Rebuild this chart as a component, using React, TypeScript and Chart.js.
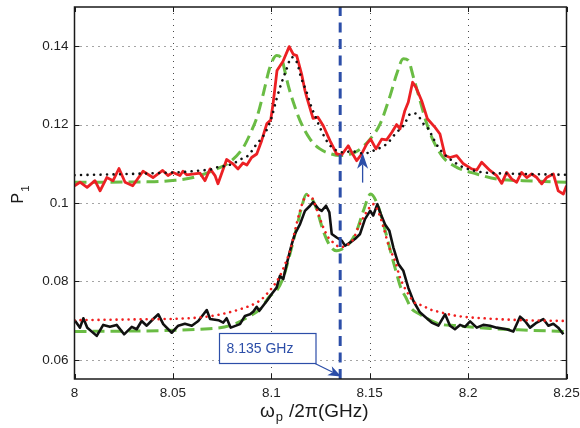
import React, { useEffect, useRef } from "react";
import { Chart, registerables } from "chart.js";

Chart.register(...registerables);

// ---- axes ----
const xTickValues = [8, 8.05, 8.1, 8.15, 8.2, 8.25];
const xTickLabels = ["8", "8.05", "8.1", "8.15", "8.2", "8.25"];
const yTickValues = [0.06, 0.08, 0.1, 0.12, 0.14];
const yTickLabels = ["0.06", "0.08", "0.1", "0.12", "0.14"];
const xMin = 8;
const xMax = 8.25;
const yMin = 0.0551;
const yMax = 0.15;

// ---- upper measured curve (red solid) ----
const upperMeasF = [
  8.0, 8.0028, 8.0064, 8.0104, 8.013, 8.0164, 8.0196, 8.0226, 8.0257, 8.0296,
  8.0348, 8.0399, 8.0448, 8.0475, 8.0501, 8.0536, 8.0551, 8.057, 8.0638, 8.0663,
  8.0689, 8.0714, 8.0729, 8.0773, 8.0805, 8.0831, 8.0856, 8.0876, 8.09, 8.0926,
  8.0951, 8.0977, 8.0997, 8.1009, 8.1029, 8.1059, 8.1091, 8.1112, 8.1129, 8.1154,
  8.1171, 8.118, 8.1212, 8.1237, 8.1264, 8.1298, 8.1332, 8.1358, 8.1391, 8.1409,
  8.1434, 8.1459, 8.1485, 8.1505, 8.1532, 8.1561, 8.1586, 8.1612, 8.1637, 8.1654,
  8.1679, 8.1696, 8.1718, 8.1735, 8.1764, 8.1793, 8.1832, 8.1857, 8.1883, 8.1908,
  8.1942, 8.1976, 8.2018, 8.2044, 8.2069, 8.2111, 8.2145, 8.2171, 8.2196, 8.2222,
  8.2247, 8.2272, 8.2298, 8.2323, 8.2349, 8.2374, 8.2399, 8.2433, 8.2458, 8.2484,
  8.25,
];
const upperMeasP = [
  0.1044, 0.1053, 0.104, 0.1057, 0.1031, 0.1065, 0.1057, 0.1088, 0.1053, 0.1044,
  0.1081, 0.1065, 0.1083, 0.107, 0.1078, 0.107, 0.1081, 0.1072, 0.1076, 0.1057,
  0.1087, 0.107, 0.1049, 0.1111, 0.11, 0.1087, 0.1102, 0.1097, 0.1116, 0.1125,
  0.1159, 0.1202, 0.1212, 0.1253, 0.1338, 0.1361, 0.1399, 0.1379, 0.1376, 0.1329,
  0.1287, 0.127, 0.1216, 0.1219, 0.1197, 0.1159, 0.1125, 0.1123, 0.1146, 0.1129,
  0.1108, 0.1125, 0.1151, 0.1163, 0.1138, 0.1163, 0.1161, 0.118, 0.12, 0.1189,
  0.1236, 0.1257, 0.1308, 0.1295, 0.1261, 0.1215, 0.1193, 0.1176, 0.1121, 0.1116,
  0.1121, 0.11, 0.1087, 0.1084, 0.1104, 0.1083, 0.107, 0.105, 0.1078, 0.1061,
  0.1053, 0.1078, 0.1065, 0.1074, 0.1065, 0.1049, 0.1065, 0.1074, 0.1031, 0.1023,
  0.1044,
];

// ---- upper fit (black dotted) ----
const upperFitF = [
  8.0, 8.02, 8.04, 8.055, 8.064, 8.0697, 8.0723, 8.0773, 8.0824, 8.085,
  8.0875, 8.09, 8.0926, 8.0951, 8.0977, 8.1002, 8.1027, 8.1053, 8.1075, 8.1104,
  8.1129, 8.1152, 8.1178, 8.1203, 8.1227, 8.1253, 8.1281, 8.1307, 8.1332, 8.1366,
  8.1409, 8.1459, 8.1502, 8.1536, 8.1561, 8.1595, 8.1629, 8.1679, 8.1701, 8.1727,
  8.175, 8.1772, 8.1798, 8.1827, 8.1849, 8.1874, 8.1908, 8.1942, 8.1976, 8.2018,
  8.2077, 8.2145, 8.2279, 8.25,
];
const upperFitP = [
  0.1071, 0.1073, 0.1076, 0.1079, 0.1083, 0.1086, 0.1091, 0.1095, 0.1105, 0.1113,
  0.1118, 0.1132, 0.1151, 0.1165, 0.1187, 0.1219, 0.1266, 0.1308, 0.1338, 0.1372,
  0.136, 0.1319, 0.1285, 0.1246, 0.1217, 0.1186, 0.1159, 0.1142, 0.1134, 0.1129,
  0.1132, 0.1127, 0.1129, 0.1138, 0.1142, 0.1155, 0.1176, 0.1203, 0.1225, 0.1229,
  0.122, 0.1203, 0.1189, 0.1161, 0.1142, 0.1127, 0.1112, 0.11, 0.1091, 0.1084,
  0.1078, 0.1076, 0.1074, 0.1072,
];

// ---- upper model (green dashed) ----
const upperModelF = [
  8.0, 8.0384, 8.0511, 8.0602, 8.0704, 8.079, 8.0858, 8.09, 8.0926, 8.0959,
  8.0993, 8.1027, 8.1053, 8.107, 8.1086, 8.1112, 8.1146, 8.1197, 8.1247, 8.1298,
  8.1349, 8.139, 8.1442, 8.1502, 8.1553, 8.1604, 8.1637, 8.1671, 8.1696, 8.1722,
  8.1756, 8.179, 8.1823, 8.1874, 8.1942, 8.2044, 8.2145, 8.228, 8.25,
];
const upperModelP = [
  0.1053, 0.1054, 0.1058, 0.1065, 0.1083, 0.1105, 0.1142, 0.1185, 0.1217, 0.1278,
  0.1346, 0.1376, 0.1368, 0.1334, 0.13, 0.1257, 0.121, 0.1163, 0.1138, 0.1126,
  0.1121, 0.1123, 0.1134, 0.1163, 0.1202, 0.1274, 0.1329, 0.1368, 0.1364, 0.1321,
  0.1261, 0.1202, 0.1159, 0.1116, 0.1091, 0.1074, 0.1061, 0.1057, 0.1053,
];

// ---- lower measured curve (black solid) ----
const lowerMeasF = [
  8.0001, 8.0028, 8.0045, 8.0065, 8.0113, 8.0146, 8.018, 8.0214, 8.0252, 8.0291,
  8.0316, 8.0341, 8.0367, 8.04, 8.0426, 8.0451, 8.0494, 8.0527, 8.0561, 8.0596,
  8.0629, 8.0672, 8.0689, 8.0731, 8.0756, 8.0773, 8.0794, 8.0841, 8.0866, 8.0892,
  8.0909, 8.0926, 8.0939, 8.0977, 8.1002, 8.1027, 8.1044, 8.1061, 8.1078, 8.1104,
  8.112, 8.1146, 8.1171, 8.1197, 8.1213, 8.1239, 8.1256, 8.1278, 8.1295, 8.1307,
  8.1332, 8.1358, 8.1375, 8.14, 8.1425, 8.1451, 8.1476, 8.1502, 8.1518, 8.1539,
  8.1556, 8.1578, 8.16, 8.162, 8.1646, 8.1671, 8.1696, 8.1722, 8.1755, 8.1781,
  8.1815, 8.1849, 8.1883, 8.1908, 8.1933, 8.1959, 8.1984, 8.201, 8.2044, 8.2077,
  8.2111, 8.2145, 8.2196, 8.223, 8.2264, 8.2289, 8.2315, 8.2349, 8.2382, 8.2408,
  8.2433, 8.2458, 8.2484,
];
const lowerMeasP = [
  0.0701, 0.0682, 0.0706, 0.0682, 0.0661, 0.0689, 0.0684, 0.0689, 0.0665, 0.0684,
  0.0678, 0.0699, 0.0687, 0.0704, 0.0716, 0.0691, 0.0669, 0.0687, 0.0692, 0.0687,
  0.0699, 0.0727, 0.0704, 0.0701, 0.0695, 0.0706, 0.0682, 0.0691, 0.0712, 0.0716,
  0.0723, 0.0735, 0.0725, 0.075, 0.0768, 0.0784, 0.0814, 0.0806, 0.0844, 0.0895,
  0.0921, 0.0946, 0.098, 0.0993, 0.1002, 0.0985, 0.098, 0.0993, 0.0976, 0.0921,
  0.0912, 0.0904, 0.0891, 0.0899, 0.0908, 0.0921, 0.0959, 0.098, 0.0968, 0.0997,
  0.0972, 0.0945, 0.0929, 0.0887, 0.0844, 0.0827, 0.0784, 0.075, 0.0721, 0.071,
  0.0695, 0.0687, 0.0716, 0.0687, 0.0678, 0.0689, 0.0684, 0.0698, 0.0682, 0.0689,
  0.0687, 0.0682, 0.0678, 0.0672, 0.071, 0.0699, 0.0682, 0.0695, 0.0704, 0.0687,
  0.0692, 0.0682, 0.0665,
];

// ---- lower fit (red dotted) ----
const lowerFitF = [
  8.0, 8.03, 8.0638, 8.0841, 8.0939, 8.0968, 8.1044, 8.107, 8.1095, 8.112,
  8.1146, 8.1171, 8.1197, 8.1218, 8.1239, 8.1264, 8.129, 8.1315, 8.1341, 8.1366,
  8.1392, 8.1417, 8.1442, 8.1468, 8.1494, 8.1519, 8.1548, 8.157, 8.1599, 8.1631,
  8.1651, 8.1702, 8.1728, 8.177, 8.1804, 8.1846, 8.1942, 8.2111, 8.228, 8.25,
];
const lowerFitP = [
  0.0701, 0.0703, 0.0708, 0.0729, 0.075, 0.0763, 0.0814, 0.0844, 0.0878, 0.0929,
  0.098, 0.1014, 0.1019, 0.1002, 0.0972, 0.0938, 0.0912, 0.0899, 0.0889, 0.0888,
  0.0895, 0.0908, 0.0938, 0.0963, 0.0985, 0.0997, 0.0972, 0.0938, 0.0887, 0.085,
  0.0814, 0.0763, 0.0746, 0.0738, 0.0729, 0.0723, 0.0712, 0.0705, 0.0701, 0.0699,
];

// ---- lower model (green dashed) ----
const lowerModelF = [
  8.0, 8.0638, 8.079, 8.0892, 8.0943, 8.0994, 8.1027, 8.1061, 8.1095, 8.1129,
  8.1154, 8.1178, 8.1203, 8.123, 8.1264, 8.1298, 8.1332, 8.1358, 8.14, 8.1434,
  8.1468, 8.1505, 8.1539, 8.1565, 8.159, 8.1612, 8.1633, 8.1658, 8.1684, 8.1709,
  8.1755, 8.1849, 8.1942, 8.2111, 8.228, 8.25,
];
const lowerModelP = [
  0.0672, 0.0678, 0.0687, 0.0712, 0.0729, 0.0763, 0.0776, 0.081, 0.087, 0.0938,
  0.0989, 0.1022, 0.1014, 0.0985, 0.0929, 0.0891, 0.0878, 0.0882, 0.0899, 0.0929,
  0.098, 0.1023, 0.0997, 0.0955, 0.0908, 0.0865, 0.0827, 0.0784, 0.0759, 0.0733,
  0.0716, 0.0692, 0.0687, 0.068, 0.0676, 0.0672,
];

// ---- marker line and annotations ----
const markerF = [8.135, 8.135];
const markerP = [yMin, yMax];
const markerLabel = "8.135 GHz";
const pointerF = 8.1464;
const pointerTipP = 0.1128;
const pointerTailP = 0.1052;

const RED = "rgb(236,32,36)";
const BLACK = "#111111";
const GREEN = "rgb(106,188,68)";
const BLUE = "rgb(44,78,168)";
const FONT = "'Liberation Sans', Arial, Helvetica, sans-serif";

function toPts(fs: number[], ps: number[]) {
  return fs.map((f, i) => ({ x: f, y: ps[i] }));
}

function drawArrow(
  ctx: CanvasRenderingContext2D,
  x0: number, y0: number, x1: number, y1: number,
  headLen: number, halfW: number, color: string, lw: number
) {
  const dx = x1 - x0, dy = y1 - y0;
  const L = Math.hypot(dx, dy);
  const ux = dx / L, uy = dy / L;
  const nx = -uy, ny = ux;
  const bx = x1 - ux * headLen, by = y1 - uy * headLen;
  const mx = x1 - ux * headLen * 0.72, my = y1 - uy * headLen * 0.72;
  ctx.save();
  ctx.strokeStyle = color;
  ctx.fillStyle = color;
  ctx.lineWidth = lw;
  ctx.setLineDash([]);
  ctx.beginPath();
  ctx.moveTo(x0, y0);
  ctx.lineTo(mx, my);
  ctx.stroke();
  ctx.beginPath();
  ctx.moveTo(x1, y1);
  ctx.lineTo(bx + nx * halfW, by + ny * halfW);
  ctx.lineTo(mx, my);
  ctx.lineTo(bx - nx * halfW, by - ny * halfW);
  ctx.closePath();
  ctx.fill();
  ctx.restore();
}

function zeroPadding(s: any) {
  s.paddingTop = 0;
  s.paddingBottom = 0;
  s.paddingLeft = 0;
  s.paddingRight = 0;
}

const decorPlugin = {
  id: "decor",
  beforeDatasetsDraw(chart: any) {
    const { ctx, chartArea: a, scales } = chart;
    const xs = scales.x, ys = scales.y;
    ctx.save();
    ctx.strokeStyle = "#4a4a4a";
    ctx.lineWidth = 1;
    ctx.setLineDash([1, 5]);
    xTickValues.forEach((v) => {
      if (v <= xMin || v >= xMax) return;
      const px = Math.round(xs.getPixelForValue(v)) + 0.5;
      ctx.beginPath();
      ctx.moveTo(px, a.top);
      ctx.lineTo(px, a.bottom);
      ctx.stroke();
    });
    yTickValues.forEach((v) => {
      const py = Math.round(ys.getPixelForValue(v)) + 0.5;
      ctx.beginPath();
      ctx.moveTo(a.left, py);
      ctx.lineTo(a.right, py);
      ctx.stroke();
    });
    ctx.restore();
  },
  afterDatasetsDraw(chart: any) {
    const { ctx, chartArea: a, scales } = chart;
    const xs = scales.x, ys = scales.y;
    ctx.save();
    ctx.setLineDash([]);
    // frame
    ctx.strokeStyle = "#1a1a1a";
    ctx.lineWidth = 1.5;
    ctx.strokeRect(a.left, a.top, a.right - a.left, a.bottom - a.top);
    // inward ticks
    ctx.lineWidth = 1;
    const tl = 5;
    xTickValues.forEach((v) => {
      const px = Math.round(xs.getPixelForValue(v)) + 0.5;
      ctx.beginPath();
      ctx.moveTo(px, a.bottom);
      ctx.lineTo(px, a.bottom - tl);
      ctx.moveTo(px, a.top);
      ctx.lineTo(px, a.top + tl);
      ctx.stroke();
    });
    yTickValues.forEach((v) => {
      const py = Math.round(ys.getPixelForValue(v)) + 0.5;
      ctx.beginPath();
      ctx.moveTo(a.left, py);
      ctx.lineTo(a.left + tl, py);
      ctx.moveTo(a.right, py);
      ctx.lineTo(a.right - tl, py);
      ctx.stroke();
    });

    // annotation text box
    const bx0 = 219.5, by0 = 333.5, bw = 96.5, bh = 30;
    ctx.fillStyle = "#ffffff";
    ctx.fillRect(bx0, by0, bw, bh);
    ctx.strokeStyle = BLUE;
    ctx.lineWidth = 1.2;
    ctx.strokeRect(bx0, by0, bw, bh);
    ctx.fillStyle = BLUE;
    ctx.font = "14px " + FONT;
    ctx.textAlign = "left";
    ctx.textBaseline = "middle";
    ctx.fillText(markerLabel, bx0 + 7, by0 + bh / 2 + 0.5);
    const tipX = xs.getPixelForValue(markerF[0]) + 1;
    const tipY = a.bottom - 2.5;
    drawArrow(ctx, bx0 + bw - 1, by0 + bh, tipX, tipY, 13, 5, BLUE, 1.2);

    // small pointer arrow
    const px = xs.getPixelForValue(pointerF);
    drawArrow(ctx, px, ys.getPixelForValue(pointerTailP), px, ys.getPixelForValue(pointerTipP), 16, 5.5, BLUE, 1.3);

    // axis titles
    ctx.fillStyle = "#1a1a1a";
    ctx.textBaseline = "alphabetic";
    ctx.textAlign = "left";
    // y title P_1
    ctx.save();
    ctx.translate(22.5, 203.5);
    ctx.rotate(-Math.PI / 2);
    ctx.font = "16px " + FONT;
    ctx.fillText("P", 0, 0);
    const pw = ctx.measureText("P").width;
    ctx.font = "11.5px " + FONT;
    ctx.fillText("1", pw + 1, 6.5);
    ctx.restore();
    // x title  ω_p /2π(GHz)
    ctx.font = "19px " + FONT;
    ctx.fillText("\u03c9", 260, 416.5);
    const ww = ctx.measureText("\u03c9").width;
    ctx.font = "13px " + FONT;
    ctx.fillText("p", 260 + ww + 1, 421);
    ctx.font = "19px " + FONT;
    ctx.fillText("/2\u03c0(GHz)", 289, 416.5);
    ctx.restore();
  },
};

export default function App() {
  const ref = useRef<HTMLCanvasElement | null>(null);
  useEffect(() => {
    if (!ref.current) return;
    const fitStyle = { pointRadius: 0, cubicInterpolationMode: "monotone" as const, fill: false };
    const chart = new Chart(ref.current, {
      type: "line",
      data: {
        datasets: [
          {
            label: "marker",
            data: toPts(markerF, markerP),
            borderColor: BLUE,
            borderWidth: 3,
            borderDash: [10, 6.5],
            pointRadius: 0,
            order: 0,
          },
          {
            label: "upper fit",
            data: toPts(upperFitF, upperFitP),
            borderColor: BLACK,
            borderWidth: 2.6,
            borderDash: [0.01, 6.5],
            borderCapStyle: "round",
            ...fitStyle,
            order: 1,
          },
          {
            label: "lower fit",
            data: toPts(lowerFitF, lowerFitP),
            borderColor: "rgb(240,30,30)",
            borderWidth: 2.6,
            borderDash: [0.01, 6],
            borderCapStyle: "round",
            ...fitStyle,
            order: 2,
          },
          {
            label: "upper measured",
            data: toPts(upperMeasF, upperMeasP),
            borderColor: RED,
            borderWidth: 2.8,
            pointRadius: 0,
            tension: 0,
            borderJoinStyle: "round",
            order: 3,
          },
          {
            label: "lower measured",
            data: toPts(lowerMeasF, lowerMeasP),
            borderColor: BLACK,
            borderWidth: 2.6,
            pointRadius: 0,
            tension: 0,
            borderJoinStyle: "round",
            order: 4,
          },
          {
            label: "upper model",
            data: toPts(upperModelF, upperModelP),
            borderColor: GREEN,
            borderWidth: 3,
            borderDash: [12, 6],
            ...fitStyle,
            order: 5,
          },
          {
            label: "lower model",
            data: toPts(lowerModelF, lowerModelP),
            borderColor: GREEN,
            borderWidth: 3,
            borderDash: [12, 6],
            ...fitStyle,
            order: 6,
          },
        ],
      },
      options: {
        animation: false,
        responsive: false,
        devicePixelRatio: 1,
        layout: { padding: { top: 7, right: 13.5, left: 0, bottom: 0 } },
        plugins: { legend: { display: false }, tooltip: { enabled: false } },
        scales: {
          x: {
            type: "linear",
            min: xMin,
            max: xMax,
            grid: { display: false, drawTicks: false },
            border: { display: false },
            afterFit: (s: any) => {
              s.height = 49;
              zeroPadding(s);
            },
            afterBuildTicks: (s: any) => {
              s.ticks = xTickValues.map((v) => ({ value: v }));
            },
            ticks: {
              padding: 6,
              color: "#222",
              font: { family: FONT, size: 13.5 },
              maxRotation: 0,
              autoSkip: false,
              callback: (_v: any, i: number) => xTickLabels[i],
            },
          },
          y: {
            type: "linear",
            min: yMin,
            max: yMax,
            grid: { display: false, drawTicks: false },
            border: { display: false },
            afterFit: (s: any) => {
              s.width = 74.5;
              zeroPadding(s);
            },
            afterBuildTicks: (s: any) => {
              s.ticks = yTickValues.map((v) => ({ value: v }));
            },
            ticks: {
              padding: 6,
              color: "#222",
              font: { family: FONT, size: 13.5 },
              autoSkip: false,
              callback: (_v: any, i: number) => yTickLabels[i],
            },
          },
        },
      },
      plugins: [decorPlugin],
    } as any);
    return () => chart.destroy();
  }, []);
  return (
    <div style={{ position: "absolute", left: 0, top: 0, width: 580, height: 428, background: "#fff" }}>
      <canvas ref={ref} width={580} height={428} style={{ width: 580, height: 428, display: "block" }} />
    </div>
  );
}
